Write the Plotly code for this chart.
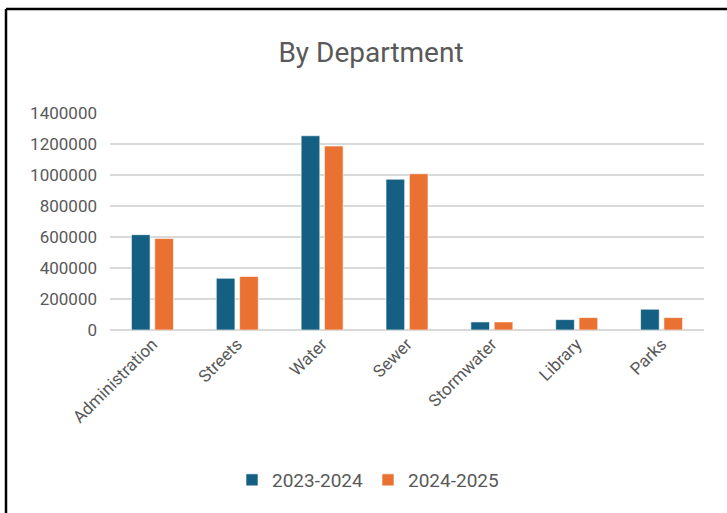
import plotly.graph_objects as go

categories = ["Administration", "Streets", "Water", "Sewer", "Stormwater", "Library", "Parks"]
fy_2023_2024 = [615000, 334000, 1253000, 973000, 52000, 67000, 134000]
fy_2024_2025 = [590000, 345000, 1187000, 1008000, 52000, 80000, 80000]
series_names = ["2023-2024", "2024-2025"]
y_ticks = [0, 200000, 400000, 600000, 800000, 1000000, 1200000, 1400000]

W, H = 727, 513
ML, MR, MT, MB = 110, 23, 113, 183
PW, PH = W - ML - MR, H - MT - MB

def px_x(p):
    return (p - ML) / PW

def px_y(p):
    return (H - MB - p) / PH

fig = go.Figure()
fig.add_trace(go.Bar(name=series_names[0], x=categories, y=fy_2023_2024,
                     marker=dict(color="#156082", line=dict(color="rgba(255,255,255,0.6)", width=1))))
fig.add_trace(go.Bar(name=series_names[1], x=categories, y=fy_2024_2025,
                     marker=dict(color="#E97132", line=dict(color="rgba(255,255,255,0.6)", width=1))))

font_family = "Roboto, Liberation Sans, Arial"
fig.update_layout(
    width=W, height=H,
    margin=dict(l=ML, r=MR, t=MT, b=MB),
    paper_bgcolor="white", plot_bgcolor="white",
    barmode="group", bargap=0.45, bargroupgap=0.2,
    font=dict(family=font_family, color="#595959"),
    title=dict(text="By Department", x=371 / W, xref="container", xanchor="center",
               y=1 - 52 / H, yref="container", yanchor="middle",
               font=dict(size=28, color="#595959", family=font_family)),
    xaxis=dict(tickangle=-45, tickfont=dict(size=17, color="#595959"), showgrid=False,
               showline=False, ticks=""),
    yaxis=dict(range=[0, 1400000], tickvals=y_ticks, tickformat="d",
               tickfont=dict(size=17, color="#595959"), gridcolor="#D9D9D9", gridwidth=1.5,
               zeroline=True, zerolinecolor="#D9D9D9", zerolinewidth=1.5,
               showline=False, ticks="", ticklabelstandoff=12),
    legend=dict(orientation="h", x=px_x(368), xanchor="center", y=px_y(480), yanchor="middle",
                font=dict(size=19, color="#595959"), itemwidth=30, traceorder="normal"),
    shapes=[
        dict(type="line", xref="paper", yref="paper", x0=px_x(6), x1=px_x(740),
             y0=px_y(9), y1=px_y(9), line=dict(color="black", width=2.5)),
        dict(type="line", xref="paper", yref="paper", x0=px_x(6), x1=px_x(6),
             y0=px_y(9), y1=px_y(530), line=dict(color="black", width=2.5)),
    ],
)

fig.write_html("out.html", config={"displayModeBar": False},
               post_script="document.body.style.margin='0';")
